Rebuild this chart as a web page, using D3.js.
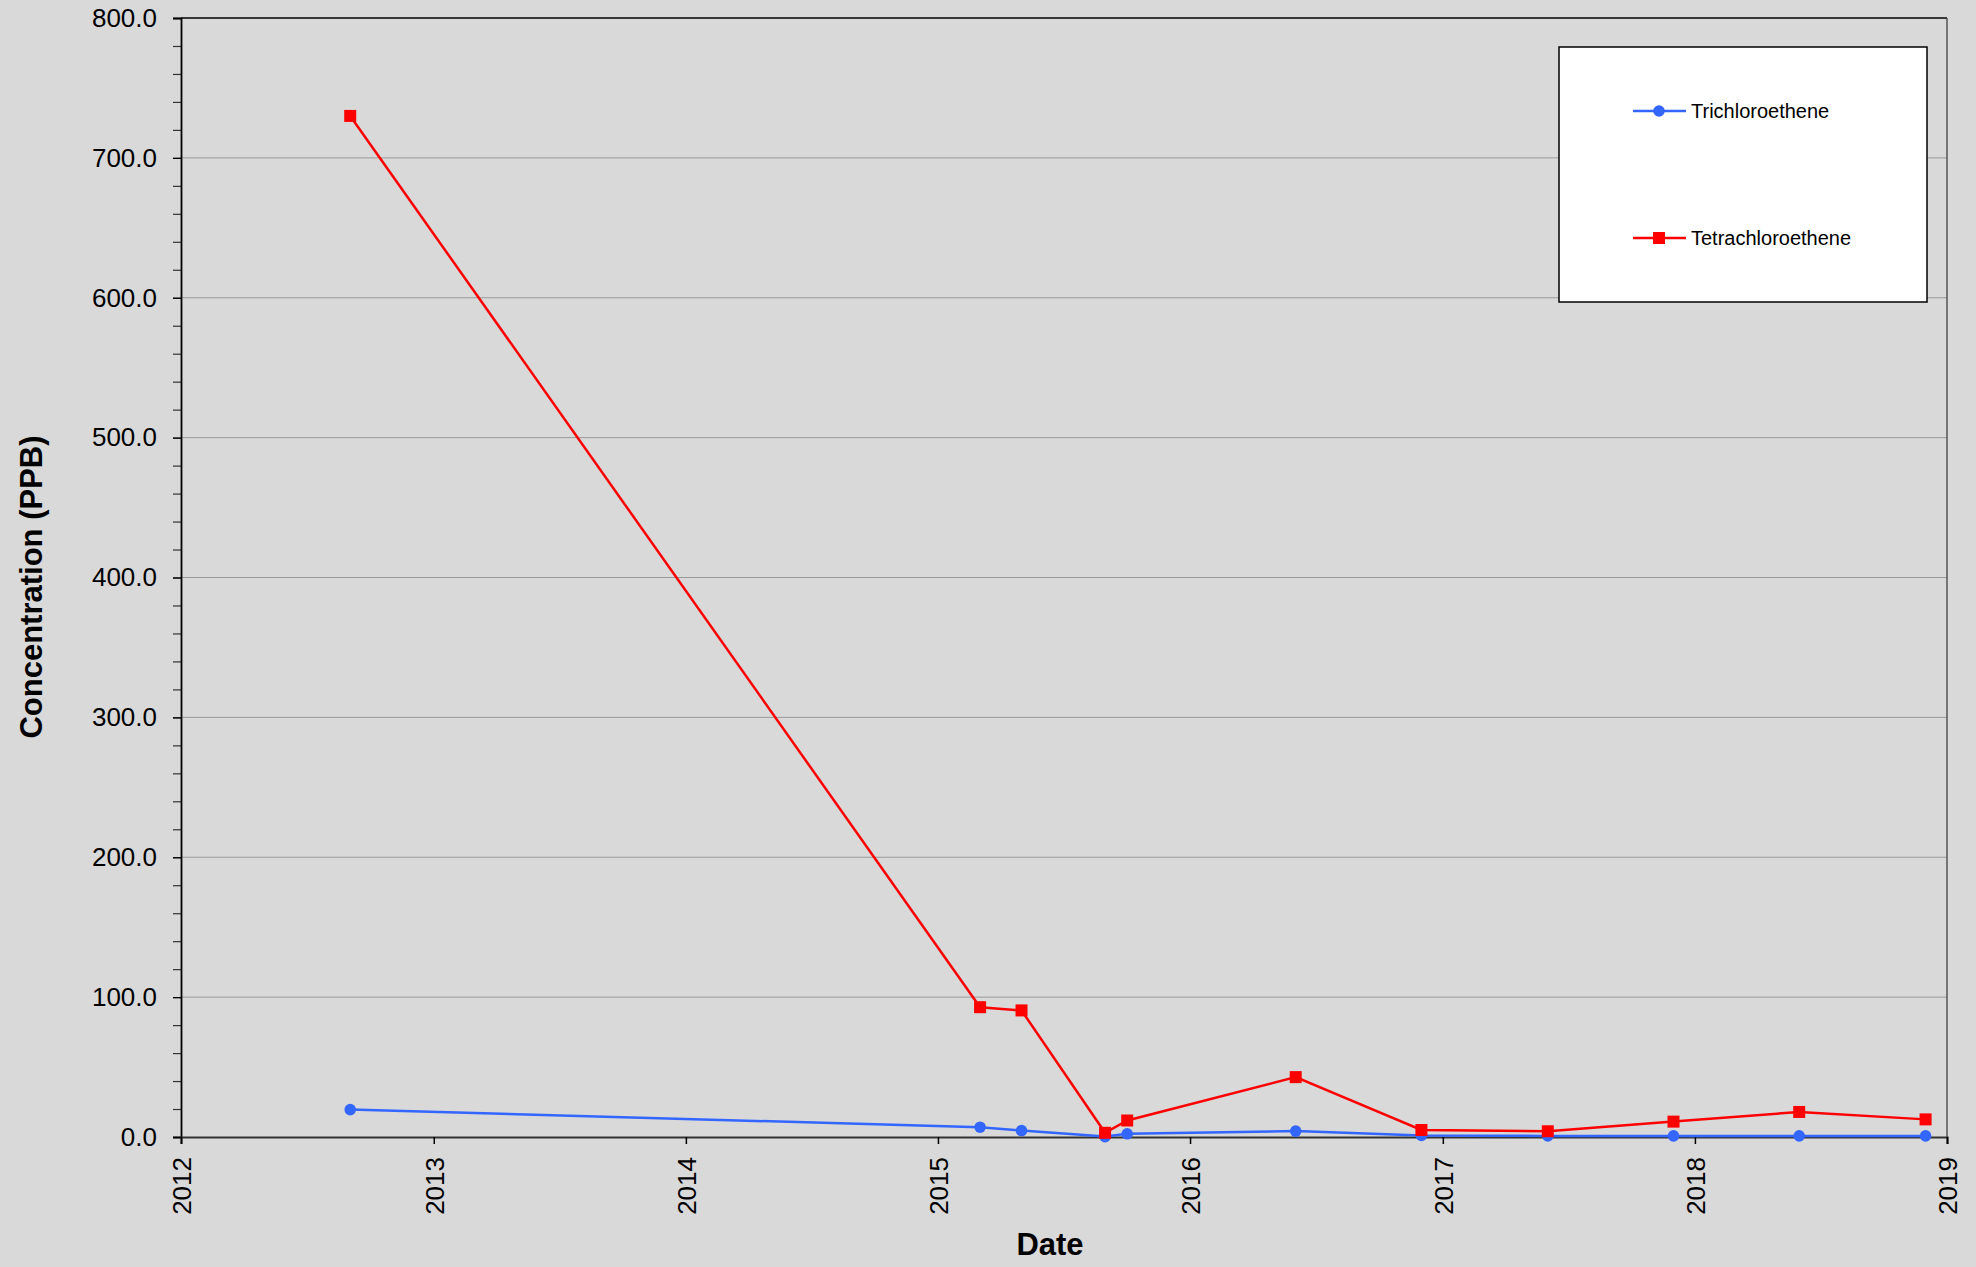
<!DOCTYPE html>
<html>
<head>
<meta charset="utf-8">
<script src="https://cdn.jsdelivr.net/npm/d3@7"></script>
<style>
  html, body { margin: 0; padding: 0; background: #d9d9d9; }
  svg { display: block; font-family: "Liberation Sans", Arial, sans-serif; }
</style>
</head>
<body>
<svg id="chart" width="1976" height="1267"></svg>
<script>
// ---- data ----
const sampleDates = ["2012-09-02", "2015-03-03", "2015-05-02", "2015-08-31", "2015-10-02",
                     "2016-06-02", "2016-12-01", "2017-06-02", "2017-12-01", "2018-06-01", "2018-12-01"];
const tceValues = [19.6, 7.0, 4.6, 0.3, 2.3, 4.2, 1.1, 0.8, 0.8, 0.8, 0.8];
const pceValues = [730.0, 92.8, 90.5, 3.0, 11.8, 42.8, 5.0, 4.1, 11.0, 17.9, 12.6];
const seriesNames = ["Trichloroethene", "Tetrachloroethene"];
const seriesColors = ["#3366ff", "#ff0000"];
const yTickValues = [0, 100, 200, 300, 400, 500, 600, 700, 800];
const yMinorTicks = d3.range(0, 801, 20);
const xTickYears = [2012, 2013, 2014, 2015, 2016, 2017, 2018, 2019];

// ---- layout ----
const svg = d3.select("#chart");
const plotLeft = 181, plotRight = 1947, plotTop = 18, plotBottom = 1137;
const parse = d3.timeParse("%Y-%m-%d");
const dates = sampleDates.map(parse);

const x = d3.scaleTime()
  .domain([new Date(2012, 0, 1), new Date(2019, 0, 1)])
  .range([plotLeft, plotRight]);
const y = d3.scaleLinear().domain([0, 800]).range([plotBottom, plotTop]);

svg.append("rect").attr("width", 1976).attr("height", 1267).attr("fill", "#d9d9d9");

// grid
svg.append("g").selectAll("line").data(yTickValues.filter(v => v > 0 && v < 800)).join("line")
  .attr("x1", plotLeft).attr("x2", plotRight)
  .attr("y1", d => y(d)).attr("y2", d => y(d))
  .attr("stroke", "#9a9a9a").attr("stroke-width", 1);

// frame top and right
svg.append("line").attr("x1", plotLeft).attr("x2", plotRight).attr("y1", plotTop).attr("y2", plotTop)
  .attr("stroke", "#000").attr("stroke-width", 1.5);
svg.append("line").attr("x1", plotRight).attr("x2", plotRight).attr("y1", plotTop).attr("y2", plotBottom)
  .attr("stroke", "#555").attr("stroke-width", 1.5);

// minor y ticks
const yMinor = svg.append("g").attr("transform", `translate(${plotLeft},0)`)
  .call(d3.axisLeft(y).tickValues(yMinorTicks).tickSize(8).tickFormat(""));
yMinor.select(".domain").remove();
yMinor.selectAll("line").attr("stroke", "#333").attr("stroke-width", 1.2);

// y axis
const yAxis = svg.append("g").attr("transform", `translate(${plotLeft},0)`)
  .call(d3.axisLeft(y).tickValues(yTickValues).tickSize(8).tickPadding(16).tickFormat(d3.format(".1f")));
yAxis.select(".domain").attr("stroke", "#000").attr("stroke-width", 1.8);
yAxis.selectAll("line").attr("stroke", "#000").attr("stroke-width", 1.2);
yAxis.selectAll("text").attr("font-size", 26).attr("fill", "#000")
  .attr("font-family", "'Liberation Sans', Arial, sans-serif");

// x axis
const xAxis = svg.append("g").attr("transform", `translate(0,${plotBottom})`)
  .call(d3.axisBottom(x).tickValues(xTickYears.map(yr => new Date(yr, 0, 1)))
    .tickSize(7).tickFormat(d3.timeFormat("%Y")));
xAxis.select(".domain").attr("stroke", "#333").attr("stroke-width", 2.2);
xAxis.selectAll("line").attr("stroke", "#000").attr("stroke-width", 1.5);
xAxis.selectAll("text")
  .attr("font-size", 26).attr("fill", "#000")
  .attr("font-family", "'Liberation Sans', Arial, sans-serif")
  .attr("transform", "rotate(-90)")
  .attr("x", -20).attr("y", 0).attr("dy", "0.36em")
  .style("text-anchor", "end");

// axis titles
svg.append("text")
  .attr("transform", `translate(42,587) rotate(-90)`)
  .attr("text-anchor", "middle")
  .attr("font-size", 31).attr("font-weight", "bold").attr("fill", "#000")
  .text("Concentration (PPB)");
svg.append("text")
  .attr("x", 1050).attr("y", 1255)
  .attr("text-anchor", "middle")
  .attr("font-size", 31).attr("font-weight", "bold").attr("fill", "#000")
  .text("Date");

// series
const seriesData = [tceValues, pceValues];
const line = d3.line().x(d => x(d.date)).y(d => y(d.value));
seriesData.forEach((vals, i) => {
  const pts = vals.map((v, j) => ({ date: dates[j], value: v }));
  const g = svg.append("g");
  g.append("path").datum(pts).attr("d", line)
    .attr("fill", "none").attr("stroke", seriesColors[i]).attr("stroke-width", 2.5);
  if (i === 0) {
    g.selectAll("circle").data(pts).join("circle")
      .attr("cx", d => x(d.date)).attr("cy", d => y(d.value)).attr("r", 5.8)
      .attr("fill", seriesColors[i]);
  } else {
    g.selectAll("rect").data(pts).join("rect")
      .attr("x", d => x(d.date) - 6).attr("y", d => y(d.value) - 6)
      .attr("width", 12).attr("height", 12)
      .attr("fill", seriesColors[i]);
  }
});

// legend
const lg = svg.append("g");
lg.append("rect").attr("x", 1559).attr("y", 47).attr("width", 368).attr("height", 255)
  .attr("fill", "#fff").attr("stroke", "#000").attr("stroke-width", 1.5);
const legendY = [111, 238];
seriesNames.forEach((name, i) => {
  lg.append("line").attr("x1", 1633).attr("x2", 1686).attr("y1", legendY[i]).attr("y2", legendY[i])
    .attr("stroke", seriesColors[i]).attr("stroke-width", 2.5);
  if (i === 0) {
    lg.append("circle").attr("cx", 1659).attr("cy", legendY[i]).attr("r", 5.8).attr("fill", seriesColors[i]);
  } else {
    lg.append("rect").attr("x", 1653).attr("y", legendY[i] - 6).attr("width", 12).attr("height", 12)
      .attr("fill", seriesColors[i]);
  }
  lg.append("text").attr("x", 1691).attr("y", legendY[i]).attr("dy", "0.36em")
    .attr("font-size", 20).attr("fill", "#000").text(name);
});
</script>
</body>
</html>
